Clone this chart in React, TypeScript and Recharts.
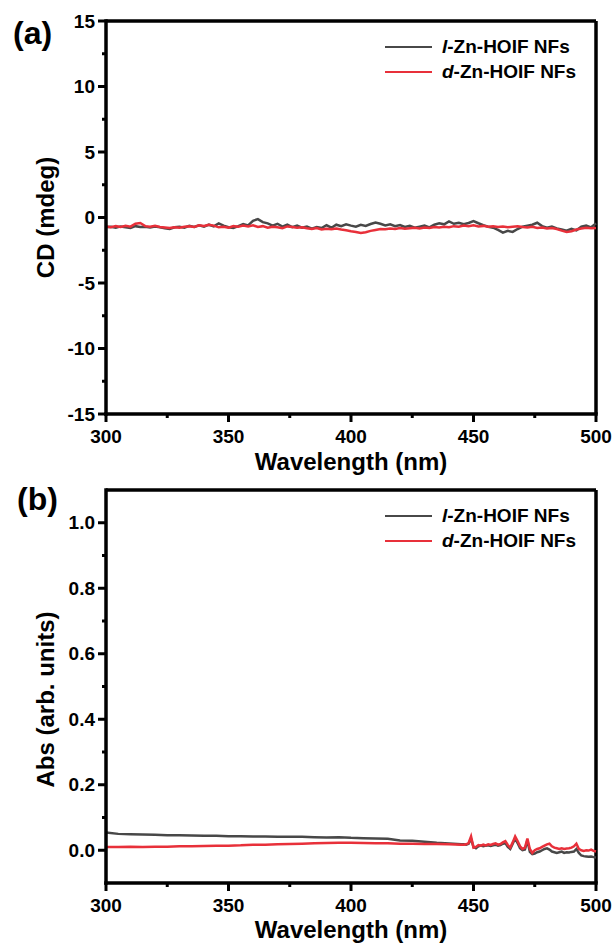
import React from 'react';
import { LineChart, Line, XAxis, YAxis, ReferenceLine, Legend } from 'recharts';

// wavelength grid (nm) for the CD panel
const wlCD = [
  300, 302, 304, 306, 308, 310, 312, 314, 316, 318, 320, 322, 324, 326, 328, 330, 332, 334, 336, 338,
  340, 342, 344, 346, 348, 350, 352, 354, 356, 358, 360, 362, 364, 366, 368, 370, 372, 374, 376, 378,
  380, 382, 384, 386, 388, 390, 392, 394, 396, 398, 400, 402, 404, 406, 408, 410, 412, 414, 416, 418,
  420, 422, 424, 426, 428, 430, 432, 434, 436, 438, 440, 442, 444, 446, 448, 450, 452, 454, 456, 458,
  460, 462, 464, 466, 468, 470, 472, 474, 476, 478, 480, 482, 484, 486, 488, 490, 492, 494, 496, 498, 500,
];

// CD (mdeg), l-Zn-HOIF NFs
const cdL = [
  -0.72, -0.70, -0.78, -0.68, -0.74, -0.80, -0.66, -0.72, -0.70, -0.76, -0.69, -0.74, -0.82, -0.88, -0.75, -0.70, -0.78, -0.64, -0.72, -0.60,
  -0.70, -0.55, -0.68, -0.45, -0.62, -0.74, -0.80, -0.66, -0.50, -0.60, -0.25, -0.12, -0.35, -0.45, -0.62, -0.48, -0.70, -0.55, -0.74, -0.62,
  -0.78, -0.70, -0.85, -0.72, -0.80, -0.58, -0.78, -0.55, -0.66, -0.52, -0.62, -0.70, -0.56, -0.64, -0.50, -0.38, -0.48, -0.60, -0.52, -0.66,
  -0.58, -0.72, -0.64, -0.78, -0.70, -0.62, -0.76, -0.55, -0.45, -0.52, -0.30, -0.48, -0.40, -0.52, -0.42, -0.28, -0.44, -0.58, -0.70, -0.78,
  -0.95, -1.15, -1.02, -1.10, -0.88, -0.70, -0.62, -0.55, -0.40, -0.66, -0.78, -0.70, -0.84, -0.92, -1.00, -0.86, -0.98, -0.70, -0.62, -0.75, -0.45,
];

// CD (mdeg), d-Zn-HOIF NFs
const cdD = [
  -0.68, -0.74, -0.66, -0.72, -0.64, -0.70, -0.48, -0.42, -0.66, -0.70, -0.64, -0.72, -0.76, -0.80, -0.74, -0.78, -0.70, -0.66, -0.72, -0.60,
  -0.64, -0.56, -0.62, -0.75, -0.70, -0.78, -0.66, -0.70, -0.62, -0.68, -0.60, -0.72, -0.66, -0.78, -0.70, -0.74, -0.82, -0.68, -0.72, -0.78,
  -0.74, -0.82, -0.88, -0.80, -0.92, -0.86, -0.90, -0.84, -0.92, -0.98, -1.05, -1.10, -1.18, -1.12, -1.02, -0.95, -0.88, -0.90, -0.84, -0.88,
  -0.80, -0.86, -0.82, -0.78, -0.84, -0.76, -0.80, -0.72, -0.76, -0.70, -0.74, -0.66, -0.70, -0.62, -0.66, -0.60, -0.68, -0.64, -0.70, -0.66,
  -0.72, -0.68, -0.74, -0.70, -0.66, -0.72, -0.76, -0.70, -0.80, -0.76, -0.84, -0.80, -0.88, -1.00, -1.10, -1.05, -0.92, -0.84, -0.78, -0.82, -0.80,
];

// wavelength grid (nm) for the absorption panel (finer where the spikes are)
const wlAbs = [
  300, 305, 310, 315, 320, 325, 330, 335, 340, 345, 350, 355, 360, 365, 370, 375, 380, 385, 390, 395,
  400, 405, 410, 415, 420, 425, 430, 435, 440, 445,
  446, 447, 448, 449, 450, 451, 452, 453, 454, 455, 456, 457, 458, 459, 460, 461, 462, 463, 464, 465,
  466, 467, 468, 469, 470, 471, 472, 473, 474, 475, 476, 477, 478, 479, 480, 481, 482, 483, 484, 485,
  486, 487, 488, 489, 490, 491, 492, 493, 494, 495, 496, 497, 498, 499, 500,
];

const absL = [
  0.054, 0.050, 0.049, 0.048, 0.047, 0.046, 0.046, 0.045, 0.044, 0.044, 0.043, 0.043, 0.042, 0.042, 0.041, 0.041, 0.041, 0.040, 0.039, 0.040,
  0.038, 0.037, 0.036, 0.035, 0.030, 0.029, 0.026, 0.023, 0.021, 0.018,
  0.018, 0.017, 0.020, 0.035, 0.010, 0.006, 0.012, 0.014, 0.012, 0.014, 0.015, 0.013, 0.015, 0.017, 0.014, 0.016, 0.020, 0.022, 0.010, 0.004,
  0.020, 0.036, 0.022, 0.006, 0.000, 0.002, 0.030, -0.005, -0.012, -0.010, -0.006, -0.004, 0.000, 0.004, 0.006, 0.002, -0.004, -0.006, -0.008, -0.006,
  -0.004, -0.008, -0.006, -0.007, -0.005, -0.004, 0.004, -0.008, -0.016, -0.018, -0.019, -0.020, -0.019, -0.021, -0.022,
];

const absD = [
  0.010, 0.010, 0.011, 0.010, 0.011, 0.011, 0.012, 0.012, 0.013, 0.014, 0.014, 0.015, 0.017, 0.017, 0.018, 0.019, 0.020, 0.021, 0.022, 0.023,
  0.023, 0.022, 0.021, 0.021, 0.020, 0.020, 0.019, 0.019, 0.018, 0.017,
  0.017, 0.018, 0.022, 0.042, 0.008, 0.010, 0.016, 0.014, 0.017, 0.015, 0.018, 0.016, 0.019, 0.021, 0.017, 0.019, 0.024, 0.028, 0.016, 0.008,
  0.024, 0.042, 0.028, 0.012, 0.004, 0.008, 0.036, 0.004, -0.008, 0.000, 0.004, 0.006, 0.010, 0.014, 0.018, 0.020, 0.012, 0.008, 0.006, 0.004,
  0.006, 0.004, 0.005, 0.006, 0.008, 0.012, 0.020, 0.004, 0.000, -0.002, 0.000, -0.001, 0.002, -0.002, -0.004,
];

const xTicks = [300, 325, 350, 375, 400, 425, 450, 475, 500];
const xMajor = [300, 350, 400, 450, 500];
const cdTicks = [-15, -12.5, -10, -7.5, -5, -2.5, 0, 2.5, 5, 7.5, 10, 12.5, 15];
const cdMajor = [-15, -10, -5, 0, 5, 10, 15];
const absTicks = [0, 0.1, 0.2, 0.3, 0.4, 0.5, 0.6, 0.7, 0.8, 0.9, 1.0];
const absMajor = [0, 0.2, 0.4, 0.6, 0.8, 1.0];

const FONT = "Arial, 'Liberation Sans', sans-serif";
const GRAY = '#484848';
const RED = '#e8303a';
const AXIS_W = 3.5;

const series = [
  { key: 'l', prefix: 'l', color: GRAY },
  { key: 'd', prefix: 'd', color: RED },
];

const cdData = wlCD.map((wl, i) => ({ wl, l: cdL[i], d: cdD[i] }));
const absData = wlAbs.map((wl, i) => ({ wl, l: absL[i], d: absD[i] }));

const YTick = (props: any) => {
  const { x, y, payload, majors, fmt } = props;
  const major = majors.includes(payload.value);
  return (
    <g>
      <line x1={x - (major ? 8 : 4)} x2={x} y1={y} y2={y} stroke="#000" strokeWidth={3} />
      {major && (
        <text x={x - 11} y={y} textAnchor="end" dominantBaseline="central"
          fontFamily={FONT} fontWeight={700} fontSize={19} fill="#000">
          {fmt(payload.value)}
        </text>
      )}
    </g>
  );
};

const XTick = (props: any) => {
  const { x, y, payload } = props;
  const major = xMajor.includes(payload.value);
  return (
    <g>
      <line x1={x} x2={x} y1={y} y2={y + (major ? 8 : 4)} stroke="#000" strokeWidth={3} />
      {major && (
        <text x={x} y={y + 16} dy="0.71em" textAnchor="middle"
          fontFamily={FONT} fontWeight={700} fontSize={19} fill="#000">
          {payload.value}
        </text>
      )}
    </g>
  );
};

const yTitle = (text: string, shift: number) => (props: any) => {
  const vb = props.viewBox || { x: 0, y: 0, width: 0, height: 0 };
  const cx = 45;
  const cy = vb.y + vb.height / 2 + shift;
  return (
    <text x={cx} y={cy} transform={`rotate(-90 ${cx} ${cy})`} textAnchor="middle" dominantBaseline="central"
      fontFamily={FONT} fontWeight={700} fontSize={24} fill="#000">
      {text}
    </text>
  );
};

const renderLegend = () => (
  <div style={{ fontFamily: FONT, fontWeight: 700, fontSize: 19, color: '#000' }}>
    {series.map((s) => (
      <div key={s.key} style={{ display: 'flex', alignItems: 'center', height: 25, whiteSpace: 'nowrap' }}>
        <span style={{ display: 'inline-block', width: 47, borderTop: `2.5px solid ${s.color}`, marginRight: 10 }} />
        <span><i>{s.prefix}</i>-Zn-HOIF NFs</span>
      </div>
    ))}
  </div>
);

interface PanelProps {
  data: { wl: number; l: number; d: number }[];
  height: number;
  top: number;
  domain: [number, number];
  ticks: number[];
  majors: number[];
  fmt: (v: number) => string;
  title: string;
  titleShift: number;
  xTitleOffset: number;
}

const Panel: React.FC<PanelProps> = ({ data, height, top, domain, ticks, majors, fmt, title, titleShift, xTitleOffset }) => (
  <LineChart width={614} height={height} data={data} margin={{ top, right: 18, bottom: 0, left: 0 }}>
    <XAxis
      dataKey="wl"
      type="number"
      domain={[300, 500]}
      ticks={xTicks}
      interval={0}
      height={66}
      tickSize={0}
      tickMargin={0}
      tick={<XTick />}
      axisLine={{ stroke: '#000', strokeWidth: AXIS_W, strokeLinecap: 'square' }}
      label={{ value: 'Wavelength (nm)', position: 'insideBottom', offset: xTitleOffset, fill: '#000', fontSize: 24, fontWeight: 700, fontFamily: FONT }}
    />
    <YAxis
      type="number"
      domain={domain}
      ticks={ticks}
      interval={0}
      width={106}
      tickSize={0}
      tickMargin={0}
      tick={<YTick majors={majors} fmt={fmt} />}
      axisLine={{ stroke: '#000', strokeWidth: AXIS_W, strokeLinecap: 'square' }}
      label={{ content: yTitle(title, titleShift) }}
    />
    <ReferenceLine y={domain[1]} stroke="#000" strokeWidth={AXIS_W} ifOverflow="visible" />
    <ReferenceLine x={500} stroke="#000" strokeWidth={AXIS_W} ifOverflow="visible" />
    <Legend
      layout="horizontal"
      verticalAlign="middle"
      align="center"
      content={renderLegend}
      wrapperStyle={{ top: top + 13, left: 385, width: 'auto' }}
    />
    {series.map((s) => (
      <Line
        key={s.key}
        dataKey={s.key}
        stroke={s.color}
        strokeWidth={2.5}
        dot={false}
        type="linear"
        isAnimationActive={false}
      />
    ))}
  </LineChart>
);

export default function App() {
  return (
    <div style={{ position: 'fixed', left: 0, top: 0, width: 614, height: 949, overflow: 'hidden', background: '#fff' }}>
      <div style={{ position: 'absolute', left: 0, top: 0 }}>
        <Panel
          data={cdData}
          height={480}
          top={21}
          domain={[-15, 15]}
          ticks={cdTicks}
          majors={cdMajor}
          fmt={(v) => String(v)}
          title="CD (mdeg)"
          titleShift={0}
          xTitleOffset={10}
        />
      </div>
      <div style={{ position: 'absolute', left: 0, top: 480 }}>
        <Panel
          data={absData}
          height={469}
          top={10}
          domain={[-0.1, 1.1]}
          ticks={absTicks}
          majors={absMajor}
          fmt={(v) => v.toFixed(1)}
          title="Abs (arb. units)"
          titleShift={13}
          xTitleOffset={11}
        />
      </div>
      <svg width={614} height={949} style={{ position: 'absolute', left: 0, top: 0, pointerEvents: 'none' }}>
        <text x={13} y={44} fontFamily={FONT} fontWeight={700} fontSize={32} fill="#000">(a)</text>
        <text x={17} y={510} fontFamily={FONT} fontWeight={700} fontSize={32} fill="#000">(b)</text>
      </svg>
    </div>
  );
}
